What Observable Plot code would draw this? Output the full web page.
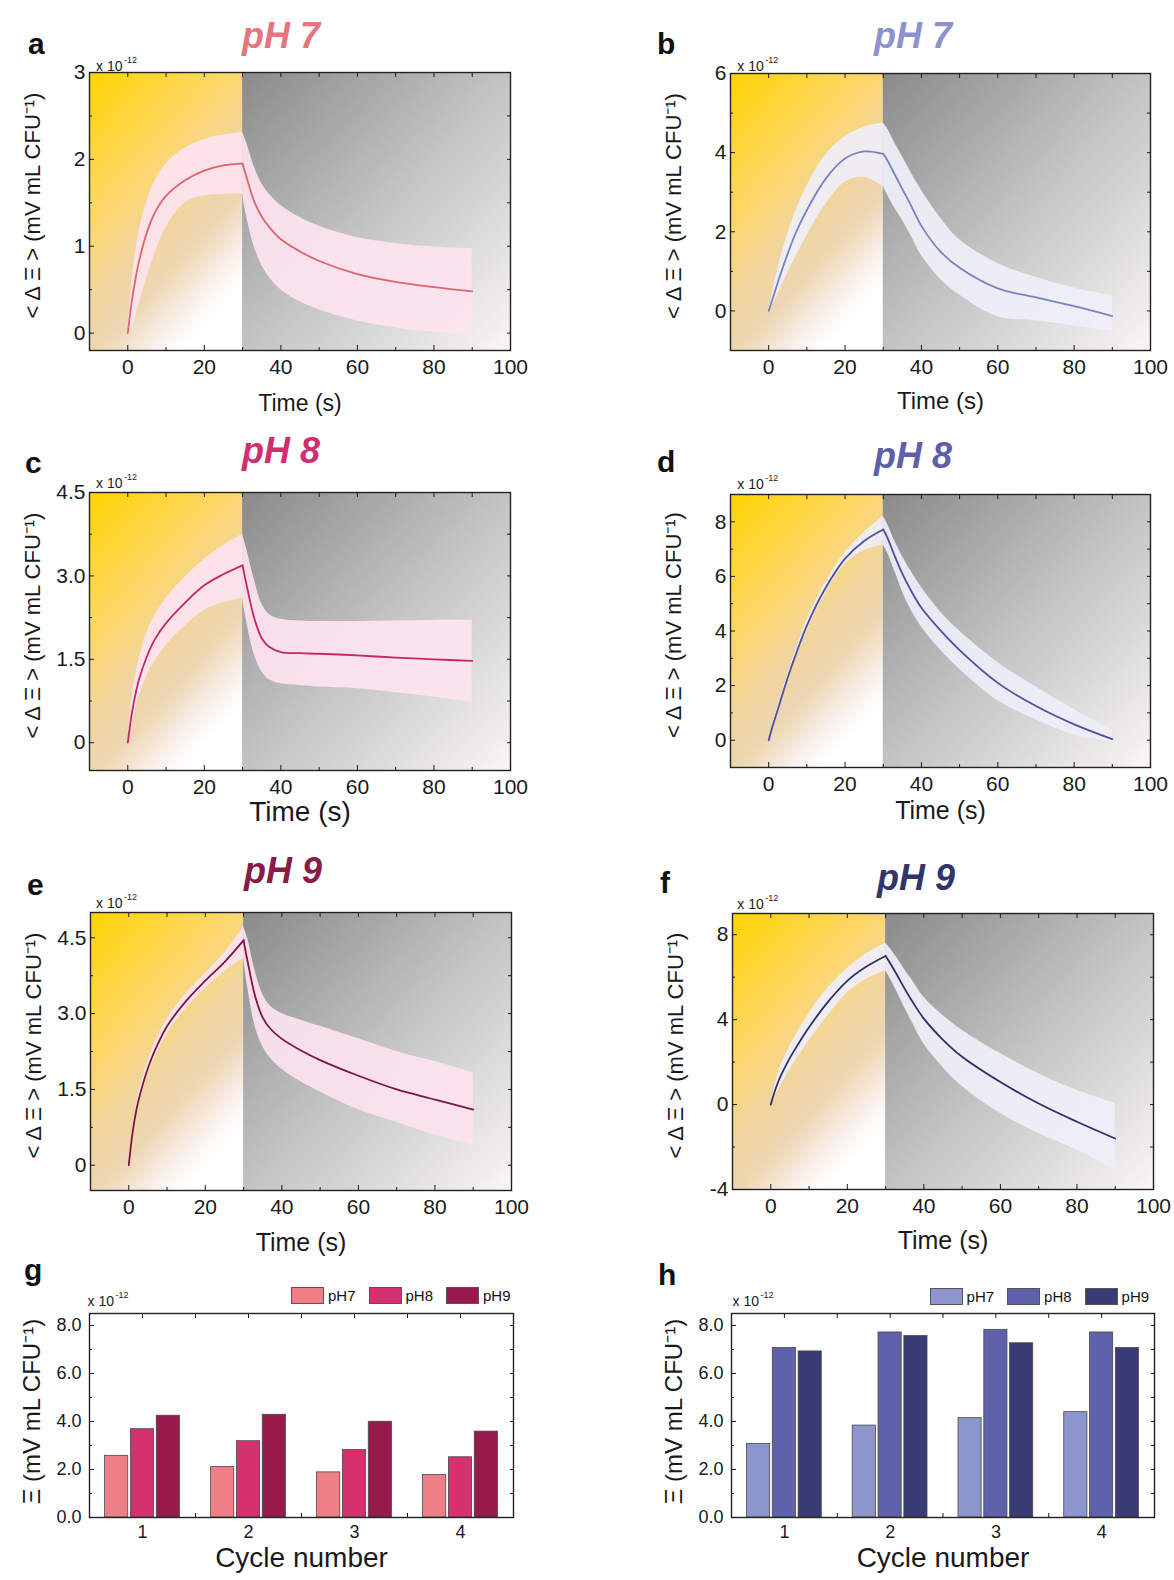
<!DOCTYPE html>
<html>
<head>
<meta charset="utf-8">
<script src="https://cdn.jsdelivr.net/npm/d3@7"></script>
<script src="https://cdn.jsdelivr.net/npm/@observablehq/plot@0.6"></script>
<style>
  body { margin: 0; background: #fff; }
  #page { position: relative; width: 1174px; height: 1580px; overflow: hidden;
          font-family: "Liberation Sans", Arial, Helvetica, sans-serif; color: #111; background: #fff; }
  .letter { position: absolute; font-weight: bold; font-size: 30px; line-height: 1; }
  .title { position: absolute; font-style: italic; font-weight: bold; font-size: 36px; line-height: 1; transform: translateX(-50%); white-space: nowrap; }
  .legend { position: absolute; display: flex; align-items: center; font-size: 15px; line-height: 1; }
  .legend .item { display: flex; align-items: center; width: 77.5px; }
  .legend .sw { width: 33px; height: 17px; border: 1px solid #555; box-sizing: border-box; margin-right: 4px; }
</style>
</head>
<body>
<div id="page">
  <svg width="0" height="0" style="position:absolute">
    <defs>
      <linearGradient id="lightGrad" x1="0" y1="0" x2="0.6" y2="1">
        <stop offset="0" stop-color="#FFD400"/>
        <stop offset="0.4" stop-color="#FDD76A"/>
        <stop offset="0.6" stop-color="#F2D59C"/>
        <stop offset="0.76" stop-color="#EDD6B2"/>
        <stop offset="0.9" stop-color="#F8EFE8"/>
        <stop offset="1" stop-color="#FFFFFF"/>
      </linearGradient>
      <linearGradient id="darkGrad" x1="0" y1="0" x2="1" y2="1">
        <stop offset="0" stop-color="#8A8A8A"/>
        <stop offset="0.5" stop-color="#C3C3C3"/>
        <stop offset="0.85" stop-color="#E8E6E7"/>
        <stop offset="1" stop-color="#FBF5F7"/>
      </linearGradient>
    </defs>
  </svg>
</div>
<script>
// ---------------- DATA ----------------
const time = [0, 1, 2, 3, 5, 7, 10, 15, 20, 25, 30, 31, 33, 35, 37, 40, 45, 50, 60, 70, 80, 90];
const switchTime = 30;            // light on until 30 s, dark afterwards
const timeDomain = [-10, 100];

// panel a (pH 7, pink)
const aMean  = [0, 0.35, 0.62, 0.84, 1.16, 1.38, 1.58, 1.76, 1.87, 1.93, 1.95, 1.8, 1.52, 1.34, 1.22, 1.08, 0.94, 0.83, 0.68, 0.59, 0.53, 0.48];
const aUpper = [0, 0.55, 0.92, 1.18, 1.52, 1.74, 1.95, 2.13, 2.23, 2.28, 2.31, 2.2, 1.92, 1.72, 1.6, 1.47, 1.33, 1.23, 1.1, 1.03, 0.99, 0.97];
const aLower = [0, 0.06, 0.18, 0.34, 0.64, 0.9, 1.22, 1.5, 1.58, 1.6, 1.6, 1.35, 1.0, 0.78, 0.64, 0.5, 0.36, 0.27, 0.14, 0.06, 0.01, -0.02];
// panel b (pH 7, blue)
const bMean  = [0, 0.3, 0.6, 0.9, 1.45, 1.95, 2.55, 3.35, 3.85, 4.03, 3.97, 3.82, 3.45, 3.08, 2.72, 2.15, 1.5, 1.09, 0.57, 0.34, 0.12, -0.13];
const bUpper = [0, 0.45, 0.9, 1.3, 1.95, 2.5, 3.15, 3.95, 4.4, 4.65, 4.75, 4.62, 4.25, 3.9, 3.55, 3.05, 2.35, 1.8, 1.2, 0.85, 0.58, 0.38];
const bLower = [0, 0.15, 0.35, 0.55, 0.95, 1.35, 1.9, 2.7, 3.25, 3.38, 3.15, 2.95, 2.6, 2.3, 1.95, 1.4, 0.8, 0.4, -0.15, -0.25, -0.38, -0.5];
// panel c (pH 8, pink)
const cMean  = [0, 0.5, 0.87, 1.15, 1.55, 1.85, 2.15, 2.52, 2.83, 3.03, 3.19, 2.85, 2.25, 1.88, 1.72, 1.63, 1.61, 1.6, 1.57, 1.53, 1.5, 1.47];
const cUpper = [0, 0.75, 1.2, 1.5, 1.98, 2.28, 2.6, 2.98, 3.3, 3.55, 3.75, 3.5, 2.95, 2.5, 2.3, 2.22, 2.19, 2.18, 2.18, 2.19, 2.2, 2.2];
const cLower = [0, 0.3, 0.6, 0.85, 1.2, 1.45, 1.75, 2.1, 2.38, 2.52, 2.6, 2.2, 1.6, 1.28, 1.13, 1.06, 1.03, 1.0, 0.97, 0.9, 0.82, 0.72];
// panel d (pH 8, blue)
const dMean  = [0, 0.5, 0.95, 1.4, 2.3, 3.1, 4.2, 5.6, 6.65, 7.3, 7.72, 7.45, 6.75, 6.1, 5.55, 4.85, 4.02, 3.3, 2.1, 1.25, 0.58, 0.04];
const dUpper = [0, 0.55, 1.05, 1.5, 2.42, 3.25, 4.4, 5.8, 6.88, 7.6, 8.2, 7.95, 7.3, 6.75, 6.25, 5.6, 4.7, 4.0, 2.85, 1.95, 1.12, 0.35];
const dLower = [0, 0.45, 0.85, 1.3, 2.18, 2.95, 4.0, 5.4, 6.45, 6.95, 7.15, 6.9, 6.2, 5.45, 4.85, 4.15, 3.3, 2.6, 1.45, 0.75, 0.2, -0.05];
// panel e (pH 9, pink)
const eMean  = [0, 0.65, 1.1, 1.42, 1.92, 2.3, 2.75, 3.25, 3.65, 4.02, 4.45, 4.05, 3.35, 2.92, 2.7, 2.5, 2.27, 2.08, 1.77, 1.5, 1.3, 1.1];
const eUpper = [0, 0.72, 1.2, 1.55, 2.05, 2.45, 2.9, 3.4, 3.8, 4.2, 4.72, 4.5, 3.85, 3.38, 3.15, 3.0, 2.87, 2.75, 2.5, 2.25, 2.05, 1.83];
const eLower = [0, 0.58, 1.0, 1.3, 1.8, 2.15, 2.6, 3.1, 3.5, 3.83, 4.1, 3.55, 2.75, 2.35, 2.12, 1.9, 1.65, 1.45, 1.1, 0.85, 0.6, 0.4];
// panel f (pH 9, blue)
const fMean  = [0, 0.6, 1.1, 1.5, 2.2, 2.8, 3.64, 4.85, 5.83, 6.5, 7.0, 6.72, 6.1, 5.45, 4.85, 4.05, 3.05, 2.25, 1.06, 0.05, -0.81, -1.6];
const fUpper = [0, 0.85, 1.5, 2.0, 2.75, 3.4, 4.3, 5.5, 6.4, 7.1, 7.6, 7.4, 6.9, 6.35, 5.85, 5.05, 4.2, 3.5, 2.4, 1.45, 0.67, 0.05];
const fLower = [0, 0.35, 0.7, 1.0, 1.65, 2.2, 3.0, 4.2, 5.25, 5.9, 6.3, 6.0, 5.3, 4.55, 3.85, 2.85, 1.75, 0.85, -0.42, -1.36, -2.14, -3.08];

// bar panels
const cycles = [1, 2, 3, 4];
const phLabels = ["pH7", "pH8", "pH9"];
const gPH7 = [2.57, 2.10, 1.88, 1.77];
const gPH8 = [3.68, 3.18, 2.81, 2.51];
const gPH9 = [4.24, 4.28, 3.99, 3.58];
const hPH7 = [3.06, 3.83, 4.14, 4.39];
const hPH8 = [7.06, 7.71, 7.82, 7.71];
const hPH9 = [6.92, 7.56, 7.26, 7.06];

// ---------------- LAYOUT / STYLE ----------------
const FONT = '"Liberation Sans", Arial, Helvetica, sans-serif';
const page = document.getElementById("page");
const yLabelTime = "< Δ Ξ > (mV mL CFU⁻¹)";
const yLabelBar = "Ξ (mV mL CFU⁻¹)";
const BAR_PITCH = 0.244, BAR_W = 0.219;
const blank = () => "";

function place(node, left, top) {
  node.style.position = "absolute";
  node.style.left = left + "px";
  node.style.top = top + "px";
  page.appendChild(node);
}
function addText(cls, txt, left, top, color) {
  const el = document.createElement("div");
  el.className = cls;
  el.textContent = txt;
  el.style.left = left + "px";
  el.style.top = top + "px";
  if (color) el.style.color = color;
  page.appendChild(el);
}
function expMarks(dx, dy) {
  return [
    Plot.text(["x 10"], {text: d => d, frameAnchor: "top-left", textAnchor: "start", lineAnchor: "bottom", dx: dx, dy: dy, fontSize: 14}),
    Plot.text(["-12"], {text: d => d, frameAnchor: "top-left", textAnchor: "start", lineAnchor: "bottom", dx: dx + 28, dy: dy - 8, fontSize: 9})
  ];
}

function timePanel(p) {
  const M = {l: 85, r: 25, t: 30, b: 75};
  const w = p.R - p.L + M.l + M.r, h = p.B - p.T + M.t + M.b;
  // split into illuminated (rise) and dark (decay) segments sharing the switch point
  const series = [];
  time.forEach((t, i) => {
    const row = {t, mean: p.mean[i], lo: p.lower[i], hi: p.upper[i]};
    if (t <= switchTime) series.push({...row, seg: "rise"});
    if (t >= switchTime) series.push({...row, seg: "decay"});
  });
  const phases = [
    {phase: "light", start: timeDomain[0], end: switchTime},
    {phase: "dark", start: switchTime, end: timeDomain[1]}
  ];
  const xMajor = [0, 20, 40, 60, 80, 100];
  const xMinor = [10, 30, 50, 70, 90];
  const xTop = [0, 10, 20, 30, 40, 50, 60, 70, 80, 90];
  const chart = Plot.plot({
    width: w, height: h,
    marginLeft: M.l, marginRight: M.r, marginTop: M.t, marginBottom: M.b,
    style: {fontFamily: FONT, fontSize: "21px", color: "#1a1a1a", background: "transparent", overflow: "visible"},
    x: {domain: timeDomain},
    y: {domain: p.yDomain},
    marks: [
      Plot.rect(phases.filter(d => d.phase === "light"), {x1: "start", x2: "end", fill: "url(#lightGrad)"}),
      Plot.rect(phases.filter(d => d.phase === "dark"), {x1: "start", x2: "end", fill: "url(#darkGrad)"}),
      Plot.areaY(series, {x: "t", y1: "lo", y2: "hi", z: "seg", fill: p.band, fillOpacity: 0.93, curve: "catmull-rom"}),
      Plot.lineY(series, {x: "t", y: "mean", z: "seg", stroke: p.line, strokeWidth: 1.8, curve: "catmull-rom"}),
      Plot.frame({stroke: "#222", strokeWidth: 1.4}),
      Plot.axisX(xMajor, {anchor: "bottom", tickSize: -5, tickPadding: 14, fontSize: 21, label: null}),
      Plot.axisX(xMinor, {anchor: "bottom", tickSize: -3, tickFormat: blank, label: null}),
      Plot.axisX(xTop, {anchor: "top", tickSize: -4, tickFormat: blank, label: null}),
      Plot.axisY(p.yMajor, {anchor: "left", tickSize: -5, tickPadding: 9, fontSize: 21, tickFormat: p.fmt, label: null}),
      Plot.axisY(p.yMinor, {anchor: "left", tickSize: -3, tickFormat: blank, label: null}),
      Plot.axisY([...p.yMajor, ...p.yMinor], {anchor: "right", tickSize: -4, tickFormat: blank, label: null}),
      Plot.text([yLabelTime], {text: d => d, frameAnchor: "left", textAnchor: "middle", lineAnchor: "middle", rotate: -90, dx: -57, dy: -6, fontSize: 22}),
      Plot.text(["Time (s)"], {text: d => d, frameAnchor: "bottom", textAnchor: "middle", lineAnchor: "bottom", dy: p.xlabDy, fontSize: p.xlabSize}),
      ...expMarks(p.expDx, p.expDy)
    ]
  });
  place(chart, p.L - M.l, p.T - M.t);
}

function barPanel(p) {
  const M = {l: 85, r: 25, t: 30, b: 70};
  const w = p.R - p.L + M.l + M.r, h = p.B - p.T + M.t + M.b;
  const data = cycles.flatMap((c, i) => phLabels.map((ph, k) => ({cycle: c, ph, k, value: p.series[k][i]})));
  const center = d => d.cycle + (d.k - 1) * BAR_PITCH;
  const chart = Plot.plot({
    width: w, height: h,
    marginLeft: M.l, marginRight: M.r, marginTop: M.t, marginBottom: M.b,
    style: {fontFamily: FONT, fontSize: "18px", color: "#1a1a1a", background: "transparent", overflow: "visible"},
    x: {domain: [0.5, 4.5]},
    y: {domain: [0, 8.5]},
    color: {domain: phLabels, range: p.colors},
    marks: [
      Plot.rect(data, {x1: d => center(d) - BAR_W / 2, x2: d => center(d) + BAR_W / 2, y1: 0, y2: "value", fill: "ph", stroke: "#4a4a4a", strokeWidth: 0.8}),
      Plot.frame({stroke: "#222", strokeWidth: 1.4}),
      Plot.axisX(cycles, {anchor: "bottom", tickSize: 0, tickPadding: 8, fontSize: 18, tickFormat: d => String(d), label: null}),
      Plot.axisX([1.5, 2.5, 3.5], {anchor: "bottom", tickSize: -4, tickFormat: blank, label: null}),
      Plot.axisX([1, 1.5, 2, 2.5, 3, 3.5, 4], {anchor: "top", tickSize: -4, tickFormat: blank, label: null}),
      Plot.axisY([0, 2, 4, 6, 8], {anchor: "left", tickSize: -5, tickPadding: 13, fontSize: 18, tickFormat: d => d.toFixed(1), label: null}),
      Plot.axisY([1, 3, 5, 7], {anchor: "left", tickSize: -3, tickFormat: blank, label: null}),
      Plot.axisY([0, 1, 2, 3, 4, 5, 6, 7, 8], {anchor: "right", tickSize: -4, tickFormat: blank, label: null}),
      Plot.text([yLabelBar], {text: d => d, frameAnchor: "left", textAnchor: "middle", lineAnchor: "middle", rotate: -90, dx: -57, dy: -4, fontSize: 24}),
      Plot.text(["Cycle number"], {text: d => d, frameAnchor: "bottom", textAnchor: "middle", lineAnchor: "bottom", dy: 49, fontSize: 28}),
      ...expMarks(p.expDx, p.expDy)
    ]
  });
  place(chart, p.L - M.l, p.T - M.t);

  // legend
  const lg = document.createElement("div");
  lg.className = "legend";
  phLabels.forEach((ph, k) => {
    const it = document.createElement("div");
    it.className = "item";
    const sw = document.createElement("div");
    sw.className = "sw";
    sw.style.background = p.colors[k];
    const tx = document.createElement("span");
    tx.textContent = ph;
    it.appendChild(sw); it.appendChild(tx);
    lg.appendChild(it);
  });
  lg.style.left = p.legendLeft + "px";
  lg.style.top = p.legendTop + "px";
  page.appendChild(lg);
}

const intFmt = d => String(d);
const halfFmt = d => d === 0 ? "0" : d.toFixed(1);

timePanel({L: 89, R: 510, T: 72, B: 350, yDomain: [-0.2, 3], yMajor: [0, 1, 2, 3], yMinor: [0.5, 1.5, 2.5], fmt: intFmt,
  mean: aMean, upper: aUpper, lower: aLower, line: "#E2626F", band: "#FDE4EF", xlabDy: 60, xlabSize: 23, expDx: 6.5, expDy: -2});
timePanel({L: 730, R: 1150, T: 73, B: 350, yDomain: [-1, 6], yMajor: [0, 2, 4, 6], yMinor: [1, 3, 5], fmt: intFmt,
  mean: bMean, upper: bUpper, lower: bLower, line: "#7B80C2", band: "#EFEFF9", xlabDy: 58, xlabSize: 24, expDx: 6.8, expDy: -3});
timePanel({L: 89, R: 510, T: 492, B: 770, yDomain: [-0.5, 4.5], yMajor: [0, 1.5, 3, 4.5], yMinor: [0.75, 2.25, 3.75], fmt: halfFmt,
  mean: cMean, upper: cUpper, lower: cLower, line: "#C92467", band: "#FDE4EF", xlabDy: 50, xlabSize: 28, expDx: 6.5, expDy: -5});
timePanel({L: 730, R: 1150, T: 494, B: 767, yDomain: [-1, 9], yMajor: [0, 2, 4, 6, 8], yMinor: [1, 3, 5, 7], fmt: intFmt,
  mean: dMean, upper: dUpper, lower: dLower, line: "#4C509E", band: "#EDEEF8", xlabDy: 51, xlabSize: 25, expDx: 6.8, expDy: -6});
timePanel({L: 90, R: 511, T: 912, B: 1190, yDomain: [-0.5, 5], yMajor: [0, 1.5, 3, 4.5], yMinor: [0.75, 2.25, 3.75], fmt: halfFmt,
  mean: eMean, upper: eUpper, lower: eLower, line: "#7B1642", band: "#FDE3EF", xlabDy: 60, xlabSize: 25, expDx: 5.5, expDy: -5});
timePanel({L: 732, R: 1153, T: 913, B: 1189, yDomain: [-4, 9], yMajor: [-4, 0, 4, 8], yMinor: [-2, 2, 6], fmt: intFmt,
  mean: fMean, upper: fUpper, lower: fLower, line: "#2E3068", band: "#EEEFF8", xlabDy: 59, xlabSize: 25, expDx: 4.8, expDy: -5});

barPanel({L: 89, R: 513, T: 1313, B: 1517, series: [gPH7, gPH8, gPH9], colors: ["#EE7F86", "#D5316F", "#971A4A"],
  expDx: -2, expDy: -8, legendLeft: 291, legendTop: 1287});
barPanel({L: 731, R: 1154, T: 1313, B: 1517, series: [hPH7, hPH8, hPH9], colors: ["#8C96CD", "#5E62AA", "#393B74"],
  expDx: 1, expDy: -8, legendLeft: 929.6, legendTop: 1288});

// panel letters
[["a", 28, 54], ["b", 657, 54], ["c", 25, 473], ["d", 657, 472], ["e", 27, 895], ["f", 660, 893], ["g", 24, 1280], ["h", 658, 1285]]
  .forEach(([t, x, base]) => addText("letter", t, x, base - 25.4));
// panel titles
[["pH 7", 281, 50, "#E8737E"], ["pH 7", 913, 50, "#8C92CC"], ["pH 8", 281, 465, "#CF2F6E"],
 ["pH 8", 913, 470, "#5C60A8"], ["pH 9", 283, 885, "#8A1A47"], ["pH 9", 916, 892, "#31356D"]]
  .forEach(([t, x, base, col]) => addText("title", t, x, base - 32.2, col));
</script>
</body>
</html>
